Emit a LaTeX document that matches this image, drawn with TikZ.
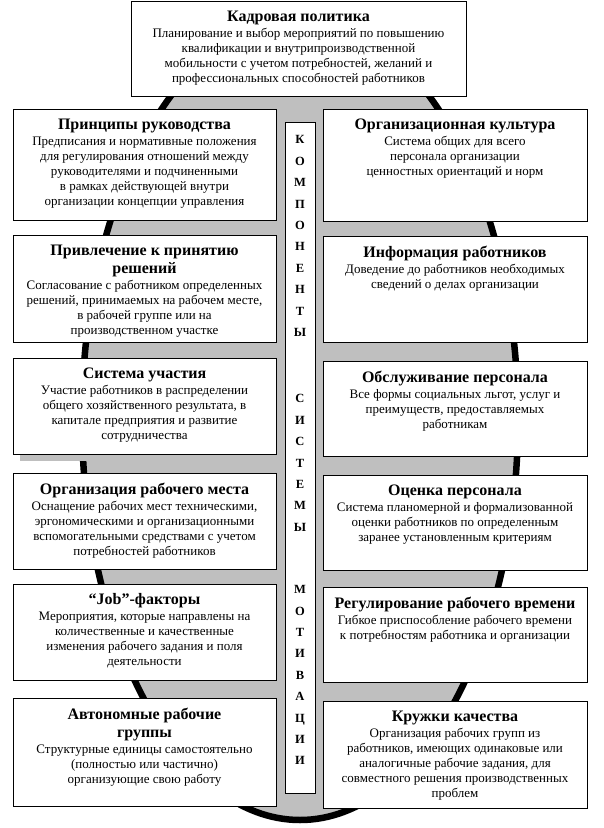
\documentclass[tikz,border=0pt]{standalone}
\usepackage{fontspec}
\setmainfont{Liberation Serif}
\usepackage{xcolor}
\usepackage{tikz}
\usetikzlibrary{positioning}

\newcommand{\hd}[1]{{\fontsize{16}{17}\selectfont\bfseries #1}}

\begin{document}
\begin{tikzpicture}[x=1pt, y=-1pt,
    blk/.style={draw, fill=white, line width=0.8pt, inner sep=0pt},
    txt/.style={align=center, inner sep=0pt, font=\fontsize{13}{15}\selectfont}]
    \useasboundingbox (0,0) rectangle (604,828);
    % ellipse behind everything
    \draw[line width=6.5pt, fill=gray!50] (300,419) ellipse [x radius=218, y radius=401];
    \fill[gray!50] (20,455) rectangle (290,461);

    \node[blk, minimum width=335, minimum height=95] (kadr) at (298.5,48.5) {};
    \node[txt, below=10pt of kadr.north] (kadrt)
        {\hd{Кадровая политика}\\[1pt]
         Планирование и выбор мероприятий по повышению\\
         квалификации и внутрипроизводственной\\
         мобильности с учетом потребностей, желаний и\\
         профессиональных способностей работников};

    % left column
    \node[blk, minimum width=263, minimum height=111] (ruk) at (144.5,164.5) {};
    \node[txt, below=10pt of ruk.north] (rukt)
        {\hd{Принципы руководства}\\[1pt]
         Предписания и нормативные положения\\
         для регулирования отношений между\\
         руководителями и подчиненными\\
         в рамках действующей внутри\\
         организации концепции управления};
    \node[blk, minimum width=263, minimum height=107] (resh) at (144.5,288.5) {};
    \node[txt, below=10pt of resh.north] (resht)
        {\hd{Привлечение к принятию}\\[3pt]
         \hd{решений}\\[1pt]
         Согласование с работником определенных\\
         решений, принимаемых на рабочем месте,\\
         в рабочей группе или на\\
         производственном участке};
    \node[blk, minimum width=263, minimum height=96] (uch) at (144.5,406) {};
    \node[txt, below=10pt of uch.north] (ucht)
        {\hd{Система участия}\\[1pt]
         Участие работников в распределении\\
         общего хозяйственного результата, в\\
         капитале предприятия и развитие\\
         сотрудничества};
    \node[blk, minimum width=263, minimum height=96] (mesto) at (144.5,521) {};
    \node[txt, below=10pt of mesto.north] (mestot)
        {\hd{Организация рабочего места}\\[1pt]
         Оснащение рабочих мест техническими,\\
         эргономическими и организационными\\
         вспомогательными средствами с учетом\\
         потребностей работников};
    \node[blk, minimum width=263, minimum height=96] (job) at (144.5,632) {};
    \node[txt, below=10pt of job.north] (jobt)
        {\hd{“Job”-факторы}\\[1pt]
         Мероприятия, которые направлены на\\
         количественные и качественные\\
         изменения рабочего задания и поля\\
         деятельности};
    \node[blk, minimum width=263, minimum height=108] (avt) at (144.5,752) {};
    \node[txt, below=10pt of avt.north] (avtt)
        {\hd{Автономные рабочие}\\[3pt]
         \hd{группы}\\[1pt]
         Структурные единицы самостоятельно\\
         (полностью или частично)\\
         организующие свою работу};

    % right column
    \node[blk, minimum width=264, minimum height=112] (kult) at (455,165) {};
    \node[txt, below=10pt of kult.north] (kultt)
        {\hd{Организационная культура}\\[1pt]
         Система общих для всего\\
         персонала организации\\
         ценностных ориентаций и норм};
    \node[blk, minimum width=264, minimum height=106] (inf) at (455,289) {};
    \node[txt, below=10pt of inf.north] (inft)
        {\hd{Информация работников}\\[1pt]
         Доведение до работников необходимых\\
         сведений о делах организации};
    \node[blk, minimum width=264, minimum height=95] (obsl) at (455,408.5) {};
    \node[txt, below=10pt of obsl.north] (obslt)
        {\hd{Обслуживание персонала}\\[1pt]
         Все формы социальных льгот, услуг и\\
         преимуществ, предоставляемых\\
         работникам};
    \node[blk, minimum width=264, minimum height=95] (ocen) at (455,522.5) {};
    \node[txt, below=10pt of ocen.north] (ocent)
        {\hd{Оценка персонала}\\[1pt]
         Система планомерной и формализованной\\
         оценки работников по определенным\\
         заранее установленным критериям};
    \node[blk, minimum width=264, minimum height=95] (vrem) at (455,634.5) {};
    \node[txt, below=10pt of vrem.north] (vremt)
        {\hd{Регулирование рабочего времени}\\[1pt]
         Гибкое приспособление рабочего времени\\
         к потребностям работника и организации};
    \node[blk, minimum width=264, minimum height=107] (kach) at (455,754.5) {};
    \node[txt, below=10pt of kach.north] (kacht)
        {\hd{Кружки качества}\\[1pt]
         Организация рабочих групп из\\
         работников, имеющих одинаковые или\\
         аналогичные рабочие задания, для\\
         совместного решения производственных\\
         проблем};

    % central column
    \node[blk, minimum width=30, minimum height=671] (komp) at (300,457.5) {};
    \node[align=center, inner sep=0pt, font=\fontsize{12.5}{21.4}\selectfont\bfseries,
        below=14pt of komp.north] (kompt)
        {К\\О\\М\\П\\О\\Н\\Е\\Н\\Т\\Ы\\[45pt]С\\И\\С\\Т\\Е\\М\\Ы\\[41pt]М\\О\\Т\\И\\В\\А\\Ц\\И\\И};
\end{tikzpicture}
\end{document}
